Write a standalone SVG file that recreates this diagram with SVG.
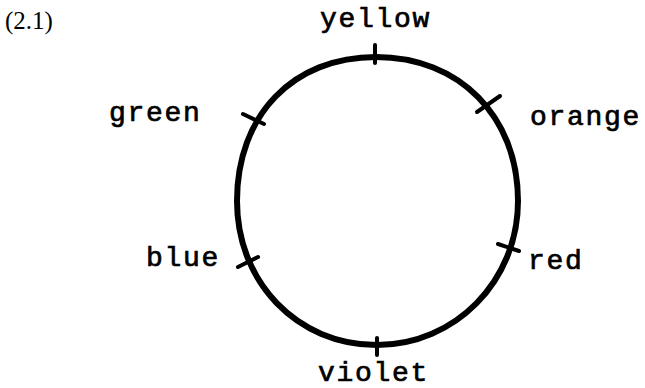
<svg xmlns="http://www.w3.org/2000/svg" width="645" height="388" viewBox="0 0 645 388">
  <style>
    .lbl { font-family: "Liberation Mono", "Courier New", monospace; font-size: 28px; letter-spacing: 1.7px; fill: #000; stroke: #000; stroke-width: 0.7px; }
    .eq { font-family: "Liberation Serif", "Times New Roman", serif; font-size: 25px; fill: #000; }
    .ring { fill: none; stroke: #000; stroke-width: 6; }
    .tick { stroke: #000; stroke-width: 4; stroke-linecap: round; }
  </style>
  <rect width="645" height="388" fill="#fff"/>
  <text class="eq" x="5" y="29">(2.1)</text>
  <g id="cycle">
    <path class="ring" d="M376,57 C459,57 518,116 518,201 C518,281 455,345 377,345 C297,345 237,282 237,201 C237,115 293,57 376,57 Z"/>
  </g>
  <g id="connectors">
    <line class="tick" x1="375" y1="45" x2="375" y2="63"/>
    <line class="tick" x1="477" y1="112" x2="500" y2="96"/>
    <line class="tick" x1="498" y1="244" x2="519" y2="251"/>
    <line class="tick" x1="377" y1="338" x2="377" y2="355"/>
    <line class="tick" x1="238" y1="267" x2="258" y2="257"/>
    <line class="tick" x1="243" y1="114" x2="264" y2="124"/>
  </g>
  <g id="yellow"><text class="lbl" x="320" y="27">yellow</text></g>
  <g id="orange"><text class="lbl" x="530" y="125">orange</text></g>
  <g id="red"><text class="lbl" x="528" y="269">red</text></g>
  <g id="violet"><text class="lbl" x="318" y="381">violet</text></g>
  <g id="blue"><text class="lbl" x="146" y="266">blue</text></g>
  <g id="green"><text class="lbl" x="109" y="121">green</text></g>
</svg>
